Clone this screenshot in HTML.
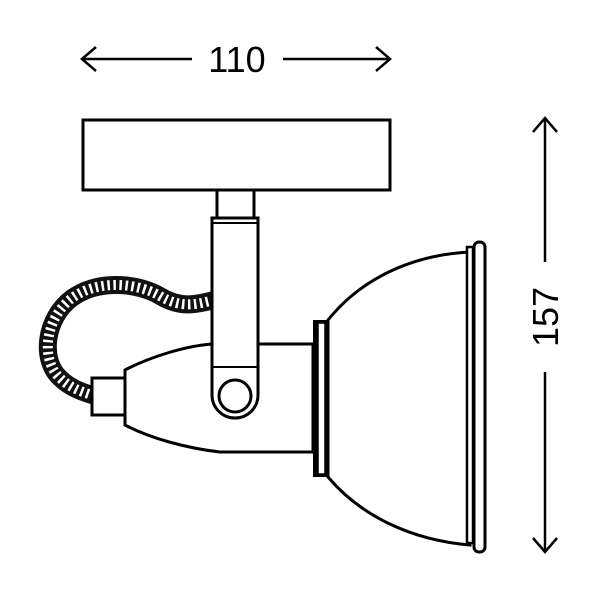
<!DOCTYPE html>
<html><head><style>html,body{margin:0;padding:0;background:#fff}svg{display:block}</style></head>
<body>
<svg width="600" height="600" viewBox="0 0 600 600" xmlns="http://www.w3.org/2000/svg">
<g stroke="#000" fill="none" stroke-width="2.5">
<line x1="82" y1="59" x2="192" y2="59"/>
<line x1="283" y1="59" x2="390" y2="59"/>
<polyline points="96,47 82,59 96,71"/>
<polyline points="376,47 390,59 376,71"/>
<line x1="545" y1="118" x2="545" y2="262"/>
<line x1="545" y1="372" x2="545" y2="552"/>
<polyline points="533,132 545,118 557,132"/>
<polyline points="533,538 545,552 557,538"/>
</g>
<text x="237" y="72" font-family="Liberation Sans, sans-serif" font-size="36" text-anchor="middle">110</text>
<text transform="translate(558,317) rotate(-90)" font-family="Liberation Sans, sans-serif" font-size="36" text-anchor="middle">157</text>

<g stroke="#000" stroke-width="3" fill="#fff">
<path d="M214,300 C195,305 180,308 160,296 C140,284 100,278 72,298 C45,318 40,360 60,378 C70,388 82,392 95,396" fill="none" stroke="#111" stroke-width="18"/>
<path d="M214,300 C195,305 180,308 160,296 C140,284 100,278 72,298 C45,318 40,360 60,378 C70,388 82,392 95,396" fill="none" stroke="#fff" stroke-width="10" stroke-dasharray="2.5 3.5"/>
<rect x="83" y="120" width="307" height="70"/>
<rect x="217" y="190" width="37" height="28"/>
<path d="M125,370 C150,357 185,346 212,344 L313,344 L313,452 L220,452 C185,448 150,438 125,425 Z"/>
<rect x="92" y="378" width="33" height="37"/>
<path d="M328,320 C360,280 410,255 470,252 L470,545 C410,540 360,515 328,477 Z"/>
<rect x="467" y="247" width="6" height="296" stroke-width="2.5"/>
<rect x="474" y="242" width="11" height="310" rx="5"/>
<rect x="313" y="320" width="15" height="157" fill="#000" stroke="none"/>
<rect x="318" y="323" width="7" height="151" stroke-width="1.5"/>
<path d="M212,218 L258,218 L258,395 A23,23 0 0 1 212,395 Z"/>
<line x1="212" y1="223" x2="258" y2="223" stroke-width="2"/>
<line x1="212" y1="367" x2="258" y2="367" stroke-width="2"/>
<circle cx="235" cy="396" r="16"/>
</g>
</svg>
</body></html>
